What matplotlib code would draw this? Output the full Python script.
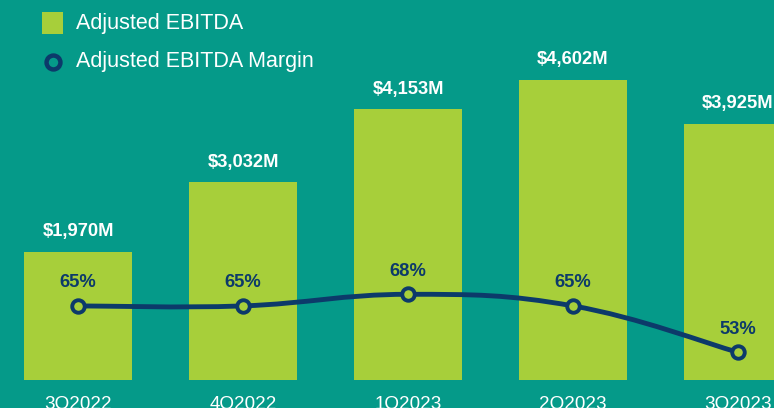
import matplotlib.pyplot as plt
from matplotlib.path import Path
from matplotlib.patches import PathPatch, Rectangle
from matplotlib.lines import Line2D

plt.rcParams['font.family'] = ['Liberation Sans', 'DejaVu Sans']

# Dados
trimestres = ['3Q2022', '4Q2022', '1Q2023', '2Q2023', '3Q2023']
ebitda = [1970, 3032, 4153, 4602, 3925]
margem = [65, 65, 68, 65, 53]

cor_fundo = '#059A89'
cor_barra = '#A7CF3A'
cor_linha = '#0C3A6A'

W, H = 774, 408
fig = plt.figure(figsize=(W / 100, H / 100), dpi=100)
fig.patch.set_facecolor(cor_fundo)
ax = fig.add_axes([0, 0, 1, 1])
ax.set_facecolor(cor_fundo)

x = list(range(len(trimestres)))
ax.bar(x, ebitda, width=0.65, color=cor_barra, zorder=1)
ax.set_xlim(-0.473, 4.218)
ax.set_ylim(-430, 5828)

for xi, v in zip(x, ebitda):
    ax.annotate(f'${v:,}M', (xi, v), xytext=(0, 14.5), textcoords='offset points',
                ha='center', va='center', color='white', fontsize=13.2, fontweight='bold')

for xi, t in zip(x, trimestres):
    ax.text(xi, -375, t, ha='center', va='center', color='white', fontsize=13.6)

for s in ax.spines.values():
    s.set_visible(False)
ax.set_xticks([])
ax.set_yticks([])

# Eixo da margem
ax2 = ax.twinx()
ax2.set_ylim(38.6, 144.1)
ax2.set_axis_off()

# curva suave (Bezier) passando pelos pontos
verts = [(x[0], margem[0])]
codes = [Path.MOVETO]
t = 0.2
for i in range(len(x) - 1):
    p0 = (x[i - 1], margem[i - 1]) if i > 0 else (x[i], margem[i])
    p1 = (x[i], margem[i])
    p2 = (x[i + 1], margem[i + 1])
    p3 = (x[i + 2], margem[i + 2]) if i + 2 < len(x) else p2
    c1 = (p1[0] + (p2[0] - p0[0]) * t, p1[1] + (p2[1] - p0[1]) * t)
    c2 = (p2[0] - (p3[0] - p1[0]) * t, p2[1] - (p3[1] - p1[1]) * t)
    verts += [c1, c2, p2]
    codes += [Path.CURVE4] * 3
ax2.add_patch(PathPatch(Path(verts, codes), facecolor='none', edgecolor=cor_linha,
                        lw=3.5, zorder=2, capstyle='round'))
ax2.plot(x, margem, 'o', ms=9, mfc=cor_barra, mec=cor_linha, mew=2.8, zorder=3)

for xi, m in zip(x, margem):
    ax2.annotate(f'{m}%', (xi, m), xytext=(0, 16.5), textcoords='offset points',
                 ha='center', va='center', color=cor_linha, fontsize=13.2, fontweight='bold')

# Legenda (posicionada manualmente)
fig.patches.append(Rectangle((42 / W, 1 - 34 / H), 21 / W, 22 / H, transform=fig.transFigure,
                             facecolor=cor_barra, edgecolor='none', figure=fig))
fig.lines.append(Line2D([53 / W], [1 - 62 / H], transform=fig.transFigure, marker='o', ls='none',
                        ms=10, mfc='none', mec=cor_linha, mew=3.2, figure=fig))
fig.text(76 / W, 1 - 23 / H, 'Adjusted EBITDA', color='white', fontsize=15.5, va='center')
fig.text(76 / W, 1 - 62 / H, 'Adjusted EBITDA Margin', color='white', fontsize=15.5, va='center')

fig.savefig('out.png', dpi=100, facecolor=cor_fundo)
